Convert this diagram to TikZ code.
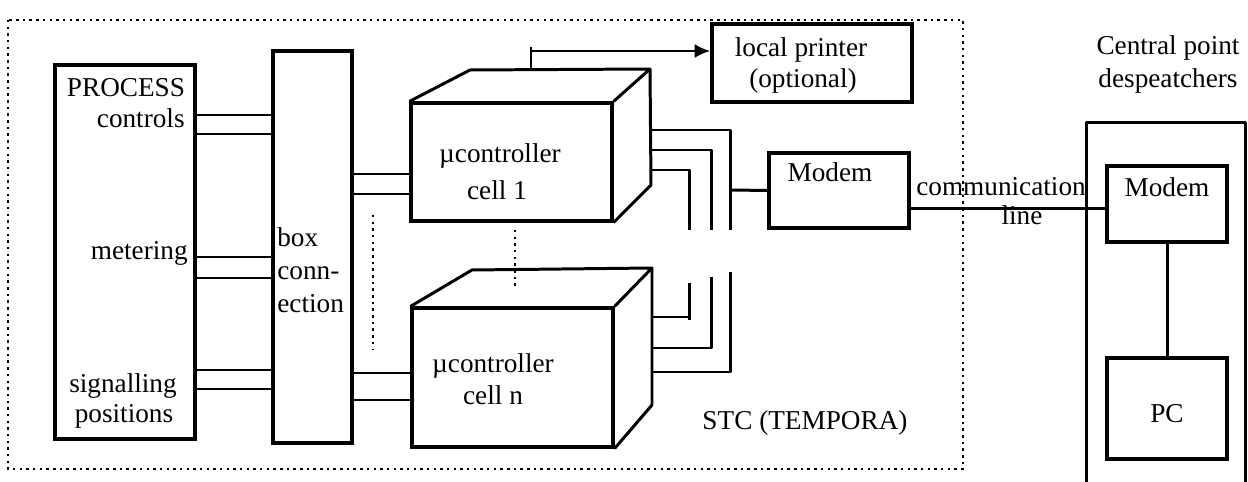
\documentclass[tikz,border=0pt]{standalone}
\usepackage{fontspec}
\setmainfont{Liberation Serif}
\usetikzlibrary{positioning, calc, arrows.meta}
\tikzset{
    blockbox/.style={rectangle, draw=black, line width=1.8pt, inner sep=0pt},
    txt/.style={font=\fontsize{15.5}{19}\selectfont, inner sep=0pt, anchor=base},
    wire/.style={line width=1.7pt, color=black, line join=round},
    arrow/.style={-{Latex[length=9pt, width=8pt]}, line width=1.7pt},
    dotline/.style={line width=1.5pt, dash pattern=on 1.4pt off 2.4pt},
}

\begin{document}
\begin{tikzpicture}[x=0.02cm, y=-0.02cm]
    \useasboundingbox (0,0) rectangle (1248,482);

    % --- Local station frame (dotted) ---
    \draw[dotline] (8,20) rectangle (963,469);

    % --- PROCESS block ---
    \node[blockbox, minimum width=2.8cm, minimum height=7.48cm] (process) at (125,252) {};
    \node[txt] (proctitle) at (126,97) {PROCESS};
    \node[txt, anchor=base east] (ctrl) at (185,128) {controls};
    \node[txt, anchor=base east] (meter) at (188,260) {metering};
    \node[txt] (signal) at (123,393) {signalling};
    \node[txt] (posit) at (124,423) {positions};

    % --- Box connection ---
    \node[blockbox, minimum width=1.58cm, minimum height=7.84cm] (boxconn) at (312.5,247) {};
    \node[txt, anchor=base west] (boxa) at (277,247) {box};
    \node[txt, anchor=base west] (boxb) at (277,280) {conn-};
    \node[txt, anchor=base west] (boxc) at (277,313) {ection};

    % double wires process -> box
    \foreach \y in {115, 134, 257, 278, 370, 389}
        \draw[wire] (process.east |- 0,\y) -- (boxconn.west |- 0,\y);

    % --- Cell 1 (cube) ---
    \node[blockbox, minimum width=4.02cm, minimum height=2.36cm] (cellone) at (511.5,162) {};
    \coordinate (c1tl) at (470,70);
    \coordinate (c1tr) at (650,69);
    \coordinate (c1br) at (651,185);
    \draw[wire] (cellone.north west) -- (c1tl) -- (c1tr) -- (c1br) -- (cellone.south east);
    \draw[wire] (cellone.north east) -- (c1tr);
    \node[txt] (c1a) at (500,163) {µcontroller};
    \node[txt] (c1b) at (497,200) {cell 1};

    % --- Cell n (cube) ---
    \node[blockbox, minimum width=4.02cm, minimum height=2.78cm] (celln) at (512.5,377.5) {};
    \coordinate (cntl) at (472,270);
    \coordinate (cntr) at (652,268);
    \coordinate (cnbr) at (652,405);
    \draw[wire] (celln.north west) -- (cntl) -- (cntr) -- (cnbr) -- (celln.south east);
    \draw[wire] (celln.north east) -- (cntr);
    \node[txt] (cna) at (493,373) {µcontroller};
    \node[txt] (cnb) at (493,405) {cell n};

    % box -> cells
    \foreach \y in {174, 194}
        \draw[wire] (boxconn.east |- 0,\y) -- (cellone.west |- 0,\y);
    \foreach \y in {373, 400}
        \draw[wire] (boxconn.east |- 0,\y) -- (celln.west |- 0,\y);

    % more cells in between
    \draw[dotline] (373,215) -- (373,350);
    \draw[dotline] (515,230) -- (515,288);

    % --- Local printer ---
    \node[blockbox, minimum width=4.0cm, minimum height=1.56cm] (printer) at (812,63) {};
    \node[txt] (prta) at (801,57) {local printer};
    \node[txt] (prtb) at (803,88) {(optional)};
    \coordinate (ptap) at (531,51);
    \draw[wire] (c1tr -| ptap) ++(0,-0.5) -- (531,47);
    \draw[arrow] (ptap) -- (ptap -| printer.west);

    % --- Local modem ---
    \node[blockbox, minimum width=2.8cm, minimum height=1.5cm] (modemloc) at (839,190.5) {};
    \node[txt] (mla) at (830,182) {Modem};

    % bus wires from the cells (break between them)
    \draw[wire] (c1tr |- 0,130) -- (730,130) -- (730,230);
    \draw[wire] (c1tr |- 0,150) -- (711,150) -- (711,230);
    \draw[wire] (c1tr |- 0,170) -- (689,170) -- (689,230);
    \draw[wire] (730,190) -- (modemloc.west);
    \draw[wire] (689,283) -- (689,320);
    \draw[wire] (689,317) -- (cntr |- 0,317);
    \draw[wire] (711,277) -- (711,348) -- (cntr |- 0,348);
    \draw[wire] (730,272) -- (730,372) -- (cntr |- 0,372);

    \node[txt] (stc) at (805,430) {STC (TEMPORA)};

    % --- Central point ---
    \node[minimum width=3.16cm, minimum height=7.4cm, inner sep=0pt] (central) at (1166,308) {};
    \draw[wire] (central.south west) -- (central.north west) -- (central.north east) -- (central.south east);
    \node[txt] (cpa) at (1168,55) {Central point};
    \node[txt] (cpb) at (1168,88) {despeatchers};

    \node[blockbox, minimum width=2.4cm, minimum height=1.52cm] (modemcen) at (1167,204) {};
    \node[txt] (mca) at (1167,197) {Modem};
    \node[blockbox, minimum width=2.4cm, minimum height=2.02cm] (pc) at (1167,408.5) {};
    \node[txt] (pca) at (1167,423) {PC};
    \draw[wire] (modemcen.south) -- (pc.north);

    % --- Communication line ---
    \draw[wire] ([yshift=-0.37cm]modemloc.east) -- ([yshift=-0.37cm]modemloc.east -| modemcen.west);
    \node[txt] (comma) at (1001,196) {communication};
    \node[txt] (commb) at (1022,225) {line};

\end{tikzpicture}
\end{document}
